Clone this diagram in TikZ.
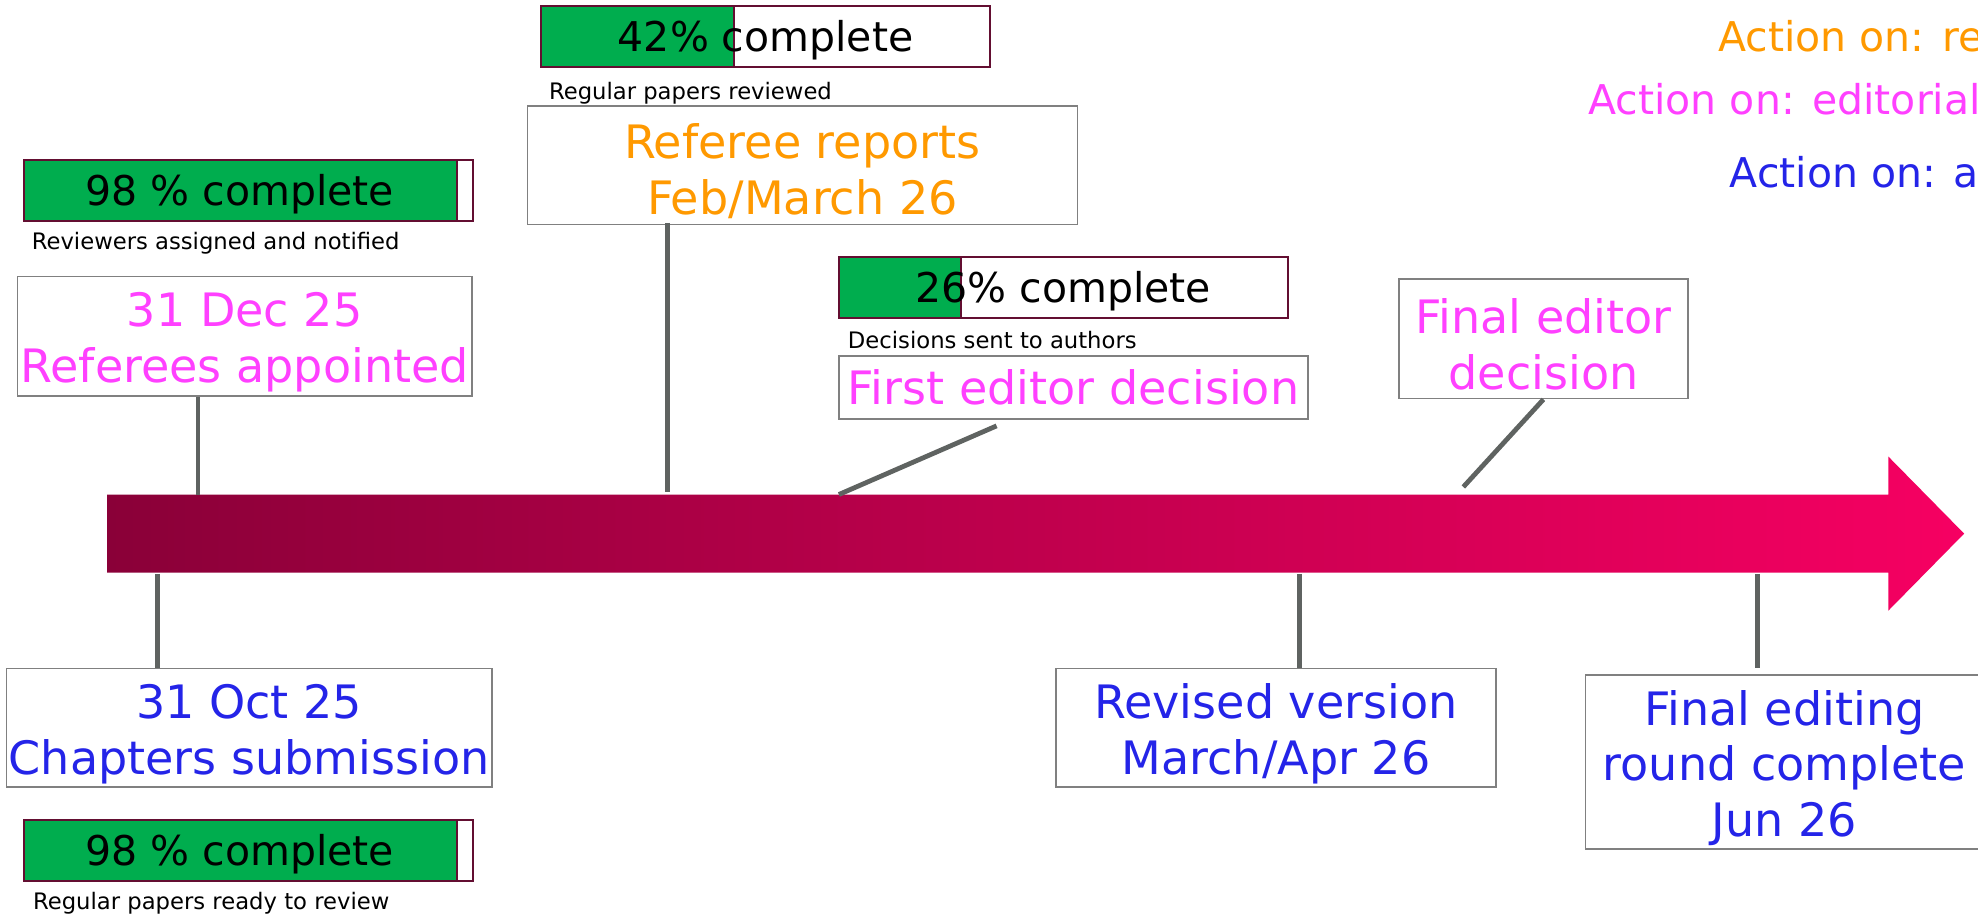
\documentclass[tikz,border=0pt]{standalone}
\usepackage{fontspec}
\setmainfont{DejaVu Sans}
\usepackage{tikz}
\definecolor{progressgreen}{RGB}{0,173,78}
\definecolor{barframe}{RGB}{99,14,49}
\definecolor{boxframe}{RGB}{128,128,128}
\definecolor{stemgray}{RGB}{95,99,97}
\definecolor{editorpink}{RGB}{255,64,255}
\definecolor{refereeorange}{RGB}{255,153,0}
\definecolor{authorblue}{RGB}{36,36,232}
\definecolor{arrowdark}{RGB}{138,0,56}
\definecolor{arrowbright}{RGB}{246,0,98}
\newcommand{\bigfont}{\fontsize{36.5}{44}\selectfont}
\newcommand{\barfont}{\fontsize{32.5}{38}\selectfont}
\newcommand{\smallfont}{\fontsize{18}{21}\selectfont}
\newcommand{\topgap}{\rule{0pt}{37pt}}
\newcommand{\drawprogressbar}[5]{
  \begin{scope}[shift={#2}]
  \fill[progressgreen] (0,0) rectangle (#3,48);
  \draw[barframe,line width=1.6pt] (0,0) rectangle (356,48);
  \draw[barframe,line width=1.6pt] (#3,0) -- (#3,48);
  \node[anchor=base,inner sep=0pt] (#1) at (#4,36) {\barfont #5};
  %% #1 name, #2 corner, #3 filled part, #4 text x
  \end{scope}
}

\begin{document}
\begin{tikzpicture}[x=1pt,y=-1pt,
    box/.style={draw=boxframe,line width=1.2pt,inner sep=0pt,align=center,font=\bigfont},
    stem/.style={stemgray,line width=3.8pt},
    notetext/.style={anchor=base west,inner sep=0pt,font=\smallfont},
    actiontext/.style={anchor=base west,inner sep=0pt,font=\barfont}]
      \useasboundingbox (0,0) rectangle (1568,728.5);

      \shade[left color=arrowdark,right color=arrowbright] (85,392) -- (1497,392) -- (1497,362) -- (1557,423) -- (1497,484) -- (1497,454) -- (85,454) -- cycle;

      \node[actiontext,text=refereeorange] (actref) at (1362,41) {Action on: re};
      \node[actiontext,text=editorpink] (actedit) at (1259,91) {Action on: editorial};
      \node[actiontext,text=authorblue] (actauth) at (1371,149) {Action on: a};

      \drawprogressbar{assigned}{(19,127)}{343}{171}{98 \% complete};
      \node[notetext] (assignednote) at (25,198) {Reviewers assigned and notified};
      \node[box,text=editorpink,minimum width=360pt,minimum height=95pt] (appointed) at (194,266.5) {\topgap 31 Dec 25\\Referees appointed};

      \drawprogressbar{reviewed}{(429,5)}{153}{178}{42\% complete};
      \node[notetext] (reviewednote) at (435,78.5) {Regular papers reviewed};
      \node[box,text=refereeorange,minimum width=436pt,minimum height=94pt] (reports) at (636,131) {\topgap Referee reports\\Feb/March 26};

      \drawprogressbar{sent}{(665,204)}{97}{178}{26\% complete};
      \node[notetext] (sentnote) at (672,276) {Decisions sent to authors};
      \node[box,text=editorpink,minimum width=372pt,minimum height=50pt] (firstdec) at (851,307) {First editor decision};

      \node[box,text=editorpink,minimum width=229pt,minimum height=95pt] (finaldec) at (1223.5,268.5) {\topgap Final editor\\decision};

      \node[box,text=authorblue,minimum width=385pt,minimum height=94pt] (submission) at (197.5,577) {\topgap 31 Oct 25\\Chapters submission};
      \drawprogressbar{ready}{(19,650)}{343}{171}{98 \% complete};
      \node[notetext] (readynote) at (26,721) {Regular papers ready to review};

      \node[box,text=authorblue,minimum width=349pt,minimum height=94pt] (revised) at (1011.5,577) {\topgap Revised version\\March/Apr 26};
      \node[box,text=authorblue,minimum width=315pt,minimum height=138pt] (finalround) at (1414.5,604) {\topgap Final editing\\round complete\\Jun 26};

      %% stems to the time line
      \coordinate (t1) at (157,392);
      \coordinate (t2) at (529,390);
      \coordinate (t3) at (665,392);
      \coordinate (t4) at (1160,386);
      \coordinate (b1) at (125,455);
      \coordinate (b2) at (1030,455);
      \coordinate (b3) at (1393,455);
      \draw[stem] (appointed.south -| t1) -- (t1);
      \draw[stem] ([yshift=2pt]reports.south -| t2) -- (t2);
      \draw[stem] ([xshift=-61pt,yshift=-5pt]firstdec.south) -- (t3);
      \draw[stem] (finaldec.south) -- (t4);
      \draw[stem] (b1) -- (submission.north -| b1);
      \draw[stem] (b2) -- (revised.north -| b2);
      \draw[stem] (b3) -- ([yshift=5pt]finalround.north -| b3);
    \end{tikzpicture}
\end{document}
